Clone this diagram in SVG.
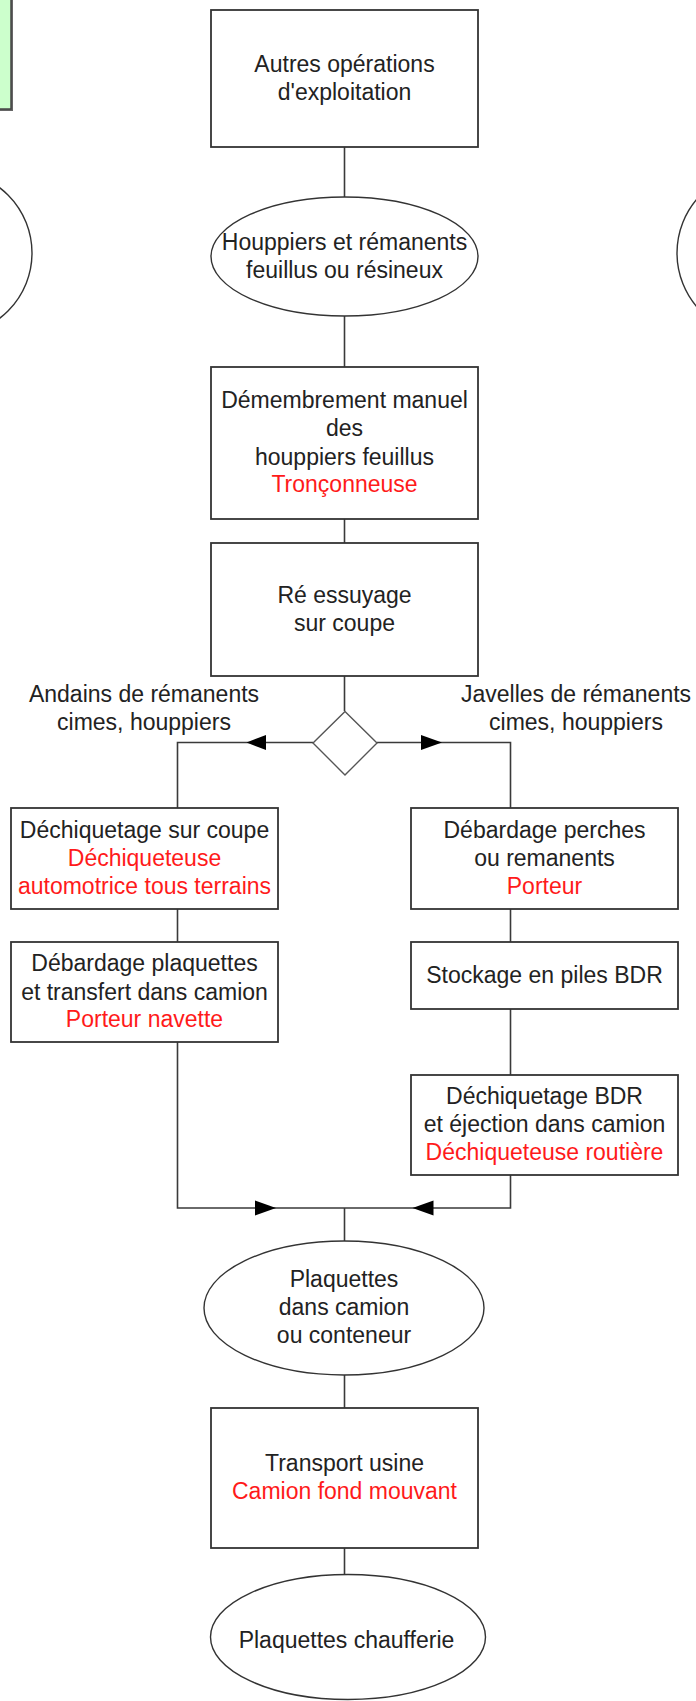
<svg xmlns="http://www.w3.org/2000/svg" width="696" height="1701" viewBox="0 0 696 1701">
  <defs>
    <style>
      .box { fill: #ffffff; stroke: #333333; stroke-width: 1.8; }
      .oval { fill: #ffffff; stroke: #333333; stroke-width: 1.4; }
      .dec { fill: #ffffff; stroke: #555555; stroke-width: 1.4; }
      .wire { fill: none; stroke: #3a3a3a; stroke-width: 1.6; }
      .head { fill: #000000; }
      text { font-family: "Liberation Sans", Arial, sans-serif; font-size: 23px; fill: #222222; text-anchor: middle; }
      .tool { fill: #ff1a1a; }
    </style>
  </defs>
  <rect width="696" height="1701" fill="#ffffff"/>

  <!-- neighbouring shapes cut by the page edge -->
  <g id="edge-left-note">
    <rect x="-8" y="-8" width="21" height="119" fill="#666666"/>
    <rect x="-10" y="-10" width="21" height="119" fill="#ccffcc" stroke="#444444" stroke-width="1.5"/>
  </g>
  <g id="edge-left-oval">
    <ellipse cx="-50" cy="253" rx="82" ry="82" class="oval"/>
  </g>
  <g id="edge-right-oval">
    <ellipse cx="760" cy="253" rx="83" ry="83" class="oval"/>
  </g>

  <!-- connectors -->
  <g id="connectors">
    <line x1="344.5" y1="147" x2="344.5" y2="197" class="wire"/>
    <line x1="344.5" y1="316" x2="344.5" y2="367" class="wire"/>
    <line x1="344.5" y1="519" x2="344.5" y2="543" class="wire"/>
    <line x1="344.5" y1="676" x2="344.5" y2="711" class="wire"/>
    <polyline points="313,742.5 177.5,742.5 177.5,808" class="wire"/>
    <polyline points="377,742.5 510.5,742.5 510.5,808" class="wire"/>
    <polygon points="246.5,742.5 266,735 266,750" class="head"/>
    <polygon points="442,742.5 421,735 421,750" class="head"/>
    <line x1="177.5" y1="909" x2="177.5" y2="942" class="wire"/>
    <line x1="510.5" y1="909" x2="510.5" y2="942" class="wire"/>
    <line x1="510.5" y1="1009" x2="510.5" y2="1075" class="wire"/>
    <polyline points="177.5,1042 177.5,1208 510.5,1208 510.5,1175" class="wire"/>
    <polygon points="276,1208 255,1200.5 255,1215.5" class="head"/>
    <polygon points="412.5,1208 433.5,1200.5 433.5,1215.5" class="head"/>
    <line x1="344.5" y1="1208" x2="344.5" y2="1241" class="wire"/>
    <line x1="344.5" y1="1375" x2="344.5" y2="1408" class="wire"/>
    <line x1="344.5" y1="1548" x2="344.5" y2="1575" class="wire"/>
  </g>

  <g id="autres-operations">
    <rect x="211" y="10" width="267" height="137" class="box"/>
    <text x="344.5" y="72">Autres opérations</text>
    <text x="344.5" y="100">d'exploitation</text>
  </g>

  <g id="houppiers">
    <ellipse cx="344.5" cy="256.5" rx="133.5" ry="59.5" class="oval"/>
    <text x="344.5" y="250">Houppiers et rémanents</text>
    <text x="344.5" y="278">feuillus ou résineux</text>
  </g>

  <g id="demembrement">
    <rect x="211" y="367" width="267" height="152" class="box"/>
    <text x="344.5" y="408">Démembrement manuel</text>
    <text x="344.5" y="436">des</text>
    <text x="344.5" y="465">houppiers feuillus</text>
    <text x="344.5" y="492" class="tool">Tronçonneuse</text>
  </g>

  <g id="re-essuyage">
    <rect x="211" y="543" width="267" height="133" class="box"/>
    <text x="344.5" y="603">Ré essuyage</text>
    <text x="344.5" y="631">sur coupe</text>
  </g>

  <g id="choix">
    <polygon points="345,711.5 377,743 345,775 313,743" class="dec"/>
  </g>

  <g id="label-andains">
    <text x="144" y="702">Andains de rémanents</text>
    <text x="144" y="730">cimes, houppiers</text>
  </g>
  <g id="label-javelles">
    <text x="576" y="702">Javelles de rémanents</text>
    <text x="576" y="730">cimes, houppiers</text>
  </g>

  <g id="dechiquetage-coupe">
    <rect x="11" y="808" width="267" height="101" class="box"/>
    <text x="144.5" y="838">Déchiquetage sur coupe</text>
    <text x="144.5" y="866" class="tool">Déchiqueteuse</text>
    <text x="144.5" y="894" class="tool">automotrice tous terrains</text>
  </g>

  <g id="debardage-plaquettes">
    <rect x="11" y="942" width="267" height="100" class="box"/>
    <text x="144.5" y="971">Débardage plaquettes</text>
    <text x="144.5" y="1000">et transfert dans camion</text>
    <text x="144.5" y="1027" class="tool">Porteur navette</text>
  </g>

  <g id="debardage-perches">
    <rect x="411" y="808" width="267" height="101" class="box"/>
    <text x="544.5" y="838">Débardage perches</text>
    <text x="544.5" y="866">ou remanents</text>
    <text x="544.5" y="894" class="tool">Porteur</text>
  </g>

  <g id="stockage">
    <rect x="411" y="942" width="267" height="67" class="box"/>
    <text x="544.5" y="983">Stockage en piles BDR</text>
  </g>

  <g id="dechiquetage-bdr">
    <rect x="411" y="1075" width="267" height="100" class="box"/>
    <text x="544.5" y="1104">Déchiquetage BDR</text>
    <text x="544.5" y="1132">et éjection dans camion</text>
    <text x="544.5" y="1160" class="tool">Déchiqueteuse routière</text>
  </g>

  <g id="plaquettes-camion">
    <ellipse cx="344" cy="1308" rx="140" ry="67" class="oval"/>
    <text x="344" y="1287">Plaquettes</text>
    <text x="344" y="1315">dans camion</text>
    <text x="344" y="1343">ou conteneur</text>
  </g>

  <g id="transport-usine">
    <rect x="211" y="1408" width="267" height="140" class="box"/>
    <text x="344.5" y="1471">Transport usine</text>
    <text x="344.5" y="1499" class="tool">Camion fond mouvant</text>
  </g>

  <g id="plaquettes-chaufferie">
    <ellipse cx="348" cy="1637" rx="137.5" ry="62.5" class="oval"/>
    <text x="346.5" y="1648">Plaquettes chaufferie</text>
  </g>
</svg>
